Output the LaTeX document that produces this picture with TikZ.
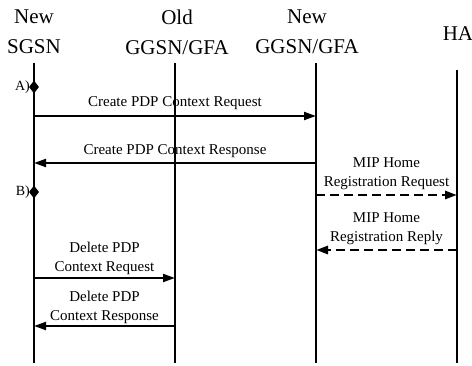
\documentclass[tikz,border=0pt]{standalone}
\usepackage{fontspec}
\setmainfont{Liberation Serif}
\usetikzlibrary{arrows.meta,shapes.geometric}
\begin{document}
\begin{tikzpicture}[x=1pt,y=-1pt,
  hdr/.style={font=\fontsize{21}{30}\selectfont,align=center,inner sep=0pt},
  lbl/.style={font=\fontsize{15}{19}\selectfont,align=center,inner sep=0pt},
  steplbl/.style={font=\fontsize{14}{15}\selectfont,inner sep=0pt,anchor=east},
  lifeline/.style={line width=1.6pt},
  msg/.style={line width=2pt,-{Triangle[length=12pt,width=8pt]}},
  dmsg/.style={line width=2.8pt,dash pattern=on 9pt off 5pt,-{Triangle[length=12pt,width=8pt]}},
  dia/.style={diamond,fill=black,inner sep=0pt,minimum width=10pt,minimum height=13pt}]
\useasboundingbox (0,0) rectangle (472,366);
% headers
\node[hdr] (hs) at (34,32) {New\\SGSN};
\node[hdr] (ho) at (177,32) {Old\\GGSN/GFA};
\node[hdr] (hn) at (307,32) {New\\GGSN/GFA};
\node[hdr] (hh) at (458,34) {HA};
% lifelines
\coordinate (sT) at (34,63);  \coordinate (sB) at (34,363);
\coordinate (oT) at (175,63); \coordinate (oB) at (175,363);
\coordinate (nT) at (316,63); \coordinate (nB) at (316,363);
\coordinate (hT) at (457,70); \coordinate (hB) at (457,363);
\draw[lifeline] (sT) -- (sB);
\draw[lifeline] (oT) -- (oB);
\draw[lifeline] (nT) -- (nB);
\draw[lifeline] (hT) -- (hB);
% markers
\node[dia] (dA) at (34,87) {};
\node[steplbl] (tA) at (30,87) {A)};
\node[dia] (dB) at (34,192) {};
\node[steplbl] (tB) at (30,192) {B)};
% message end points
\coordinate (s1) at (34,116);  \coordinate (n1) at (316,116);
\coordinate (s2) at (34,163);  \coordinate (n2) at (316,163);
\coordinate (n3) at (316,195); \coordinate (h3) at (457,195);
\coordinate (n4) at (316,250); \coordinate (h4) at (457,250);
\coordinate (s5) at (34,278);  \coordinate (o5) at (175,278);
\coordinate (s6) at (34,326);  \coordinate (o6) at (175,326);
% messages
\draw[msg] (s1) -- (n1);
\node[lbl] (l1) at (175,103.5) {Create PDP Context Request};
\draw[msg] (n2) -- (s2);
\node[lbl] (l2) at (175,151.5) {Create PDP Context Response};
\draw[dmsg] (n3) -- (h3);
\node[lbl] (l3) at (386.5,174) {MIP Home\\Registration Request};
\draw[dmsg] (h4) -- (n4);
\node[lbl] (l4) at (386.5,229) {MIP Home\\Registration Reply};
\draw[msg] (s5) -- (o5);
\node[lbl] (l5) at (104.5,258) {Delete PDP\\Context Request};
\draw[msg] (o6) -- (s6);
\node[lbl] (l6) at (104.5,307) {Delete PDP\\Context Response};
\end{tikzpicture}
\end{document}
